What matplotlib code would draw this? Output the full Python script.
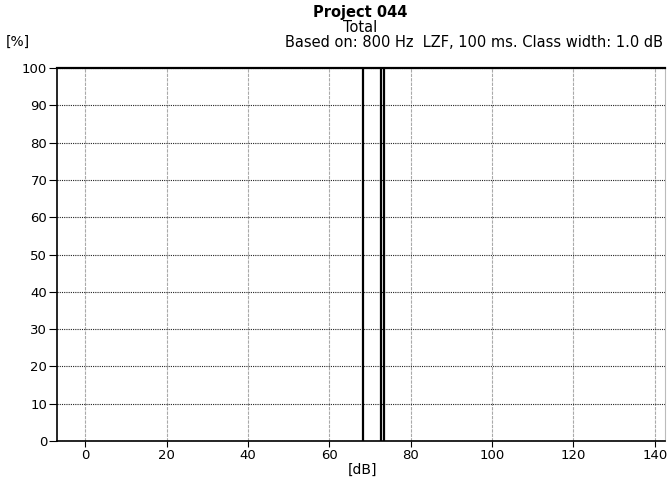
import matplotlib
matplotlib.use('Agg')
from matplotlib import pyplot as plt

# niveles (dB) donde aparecen las barras y su porcentaje
niveles = [68.2, 72.7, 73.5]
porcentaje = [100, 100, 100]

xticks = [0, 20, 40, 60, 80, 100, 120, 140]
yticks = [0, 10, 20, 30, 40, 50, 60, 70, 80, 90, 100]

plt.rcParams['font.family'] = 'DejaVu Sans'

fig = plt.figure(figsize=(6.68, 4.83), dpi=100)
ax = fig.add_axes([0.0853, 0.087, 0.9102, 0.772])

ax.vlines(niveles, 0, porcentaje, colors='k', linewidth=1.6, zorder=3)

ax.set_xlim(-7, 142.5)
ax.set_ylim(0, 100)
ax.set_xticks(xticks)
ax.set_yticks(yticks)
ax.tick_params(axis='both', labelsize=9.5, direction='out', color='k')
ax.tick_params(axis='y', length=6, pad=1)
ax.tick_params(axis='x', length=4, pad=2)

# rejilla
ax.grid(axis='y', color='#222222', linestyle=(0, (1, 1)), linewidth=0.8)
ax.grid(axis='x', color='#aaaaaa', linestyle=(0, (3, 1)), linewidth=0.8)

ax.spines['top'].set_linewidth(1.6)
ax.spines['left'].set_linewidth(1.2)
ax.spines['bottom'].set_linewidth(1.2)
ax.spines['right'].set_color('#bbbbbb')
ax.spines['right'].set_linewidth(0.8)

fig.text(0.539, 0.975, 'Project 044', ha='center', va='center', fontsize=10.5, fontweight='bold')
fig.text(0.539, 0.944, 'Total', ha='center', va='center', fontsize=10.5)
fig.text(0.008, 0.913, '[%]', ha='left', va='center', fontsize=10)
fig.text(0.9925, 0.913, 'Based on: 800 Hz  LZF, 100 ms. Class width: 1.0 dB',
         ha='right', va='center', fontsize=10.5)
fig.text(0.542, 0.027, '[dB]', ha='center', va='center', fontsize=10)

plt.savefig('out.png', dpi=100)
